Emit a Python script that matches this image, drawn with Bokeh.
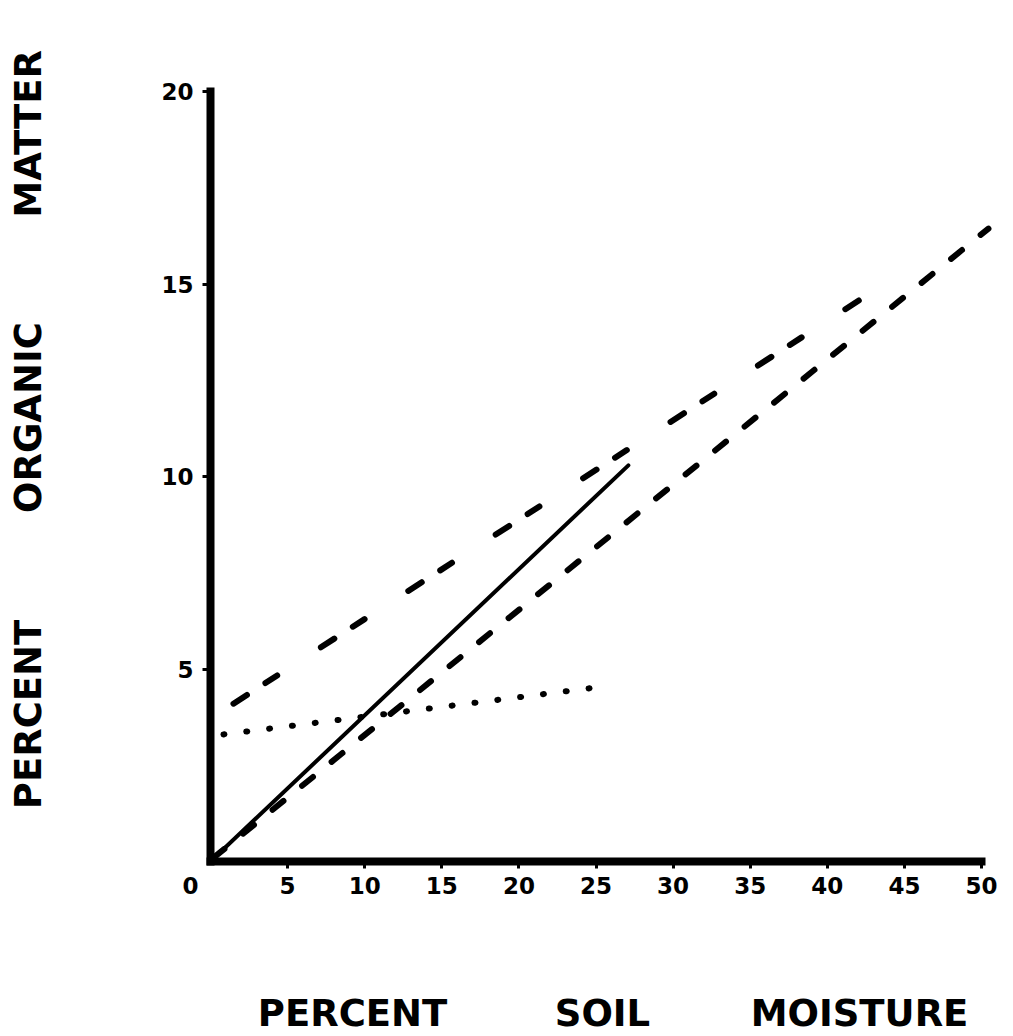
import math
from bokeh.plotting import figure
from bokeh.models import Range1d, Label, FixedTicker
from bokeh.embed import file_html
from bokeh.resources import INLINE

# ---- data ----
solid_x = [0.0, 27.1]
solid_y = [0.0, 10.29]

lower_dash_x = [0.2, 50.45]
lower_dash_y = [0.1, 16.44]

upper_dash_x = [1.49, 42.35]
upper_dash_y = [4.10, 14.65]

dotted_x = [0.84, 25.6]
dotted_y = [3.30, 4.55]

x_ticks = [5, 10, 15, 20, 25, 30, 35, 40, 45, 50]
y_ticks = [5, 10, 15, 20]
zero_label = "0"

x_title_words = ["PERCENT", "SOIL", "MOISTURE"]
x_title_pos = [9.21, 25.42, 42.09]
y_title_words = ["PERCENT", "ORGANIC", "MATTER"]
y_title_pos = [3.82, 11.53, 18.9]

# ---- layout: frame fills the whole canvas, axes fixed at the origin ----
W, H = 1013, 1036
ox, oy = 210, 861      # pixel position of the origin
sx = 15.42             # px per x unit
sy = 38.5              # px per y unit
x_start, x_end = -ox / sx, (W - ox) / sx
y_start, y_end = -(H - oy) / sy, oy / sy

FONT = "DejaVu Sans"

p = figure(width=W, height=H, x_range=Range1d(x_start, x_end),
           y_range=Range1d(y_start, y_end), title=None,
           output_backend="svg", toolbar_location=None,
           min_border_left=0, min_border_right=0,
           min_border_top=0, min_border_bottom=0)
p.outline_line_color = None
p.xgrid.visible = False
p.ygrid.visible = False
p.background_fill_color = "white"
p.border_fill_color = "white"

for ax in (p.xaxis[0], p.yaxis[0]):
    ax.fixed_location = 0
    ax.axis_line_width = 8
    ax.axis_line_color = "black"
    ax.axis_line_cap = "square"
    ax.major_tick_line_width = 3
    ax.major_tick_line_color = "black"
    ax.major_tick_in = 0
    ax.minor_tick_line_color = None
    ax.major_label_text_font = FONT
    ax.major_label_text_font_style = "bold"
    ax.major_label_text_font_size = "23px"
    ax.major_label_text_color = "black"

p.xaxis[0].ticker = FixedTicker(ticks=x_ticks)
p.xaxis[0].bounds = (0, 50)
p.xaxis[0].major_tick_out = 7
p.xaxis[0].major_label_standoff = 8

p.yaxis[0].ticker = FixedTicker(ticks=y_ticks)
p.yaxis[0].bounds = (0, 20)
p.yaxis[0].major_tick_out = 8
p.yaxis[0].major_label_standoff = 9

# ---- lines ----
p.line(solid_x, solid_y, line_color="black", line_width=4, line_cap="round")
p.line(lower_dash_x, lower_dash_y, line_color="black", line_width=6,
       line_dash="14 24", line_cap="round")
p.line(upper_dash_x, upper_dash_y, line_color="black", line_width=6,
       line_dash="16 22 14 52", line_cap="round")
p.line(dotted_x, dotted_y, line_color="black", line_width=6,
       line_dash="1 22", line_cap="round")

# ---- "0" origin label ----
p.add_layout(Label(x=-1.3, y=-15 / sy, text=zero_label, text_font=FONT,
                   text_font_style="bold", text_font_size="23px",
                   text_align="center", text_baseline="top", text_color="black"))

# ---- axis titles ----
for w, xp in zip(x_title_words, x_title_pos):
    p.add_layout(Label(x=xp, y=(oy - 1013) / sy, text=w, text_font=FONT,
                       text_font_style="bold", text_font_size="37px",
                       text_align="center", text_baseline="middle",
                       text_color="black"))
for w, yp in zip(y_title_words, y_title_pos):
    p.add_layout(Label(x=(28 - ox) / sx, y=yp, text=w, text_font=FONT,
                       text_font_style="bold", text_font_size="37px",
                       text_align="center", text_baseline="middle",
                       angle=math.pi / 2, text_color="black"))

open("out.html", "w").write(file_html(p, INLINE))
